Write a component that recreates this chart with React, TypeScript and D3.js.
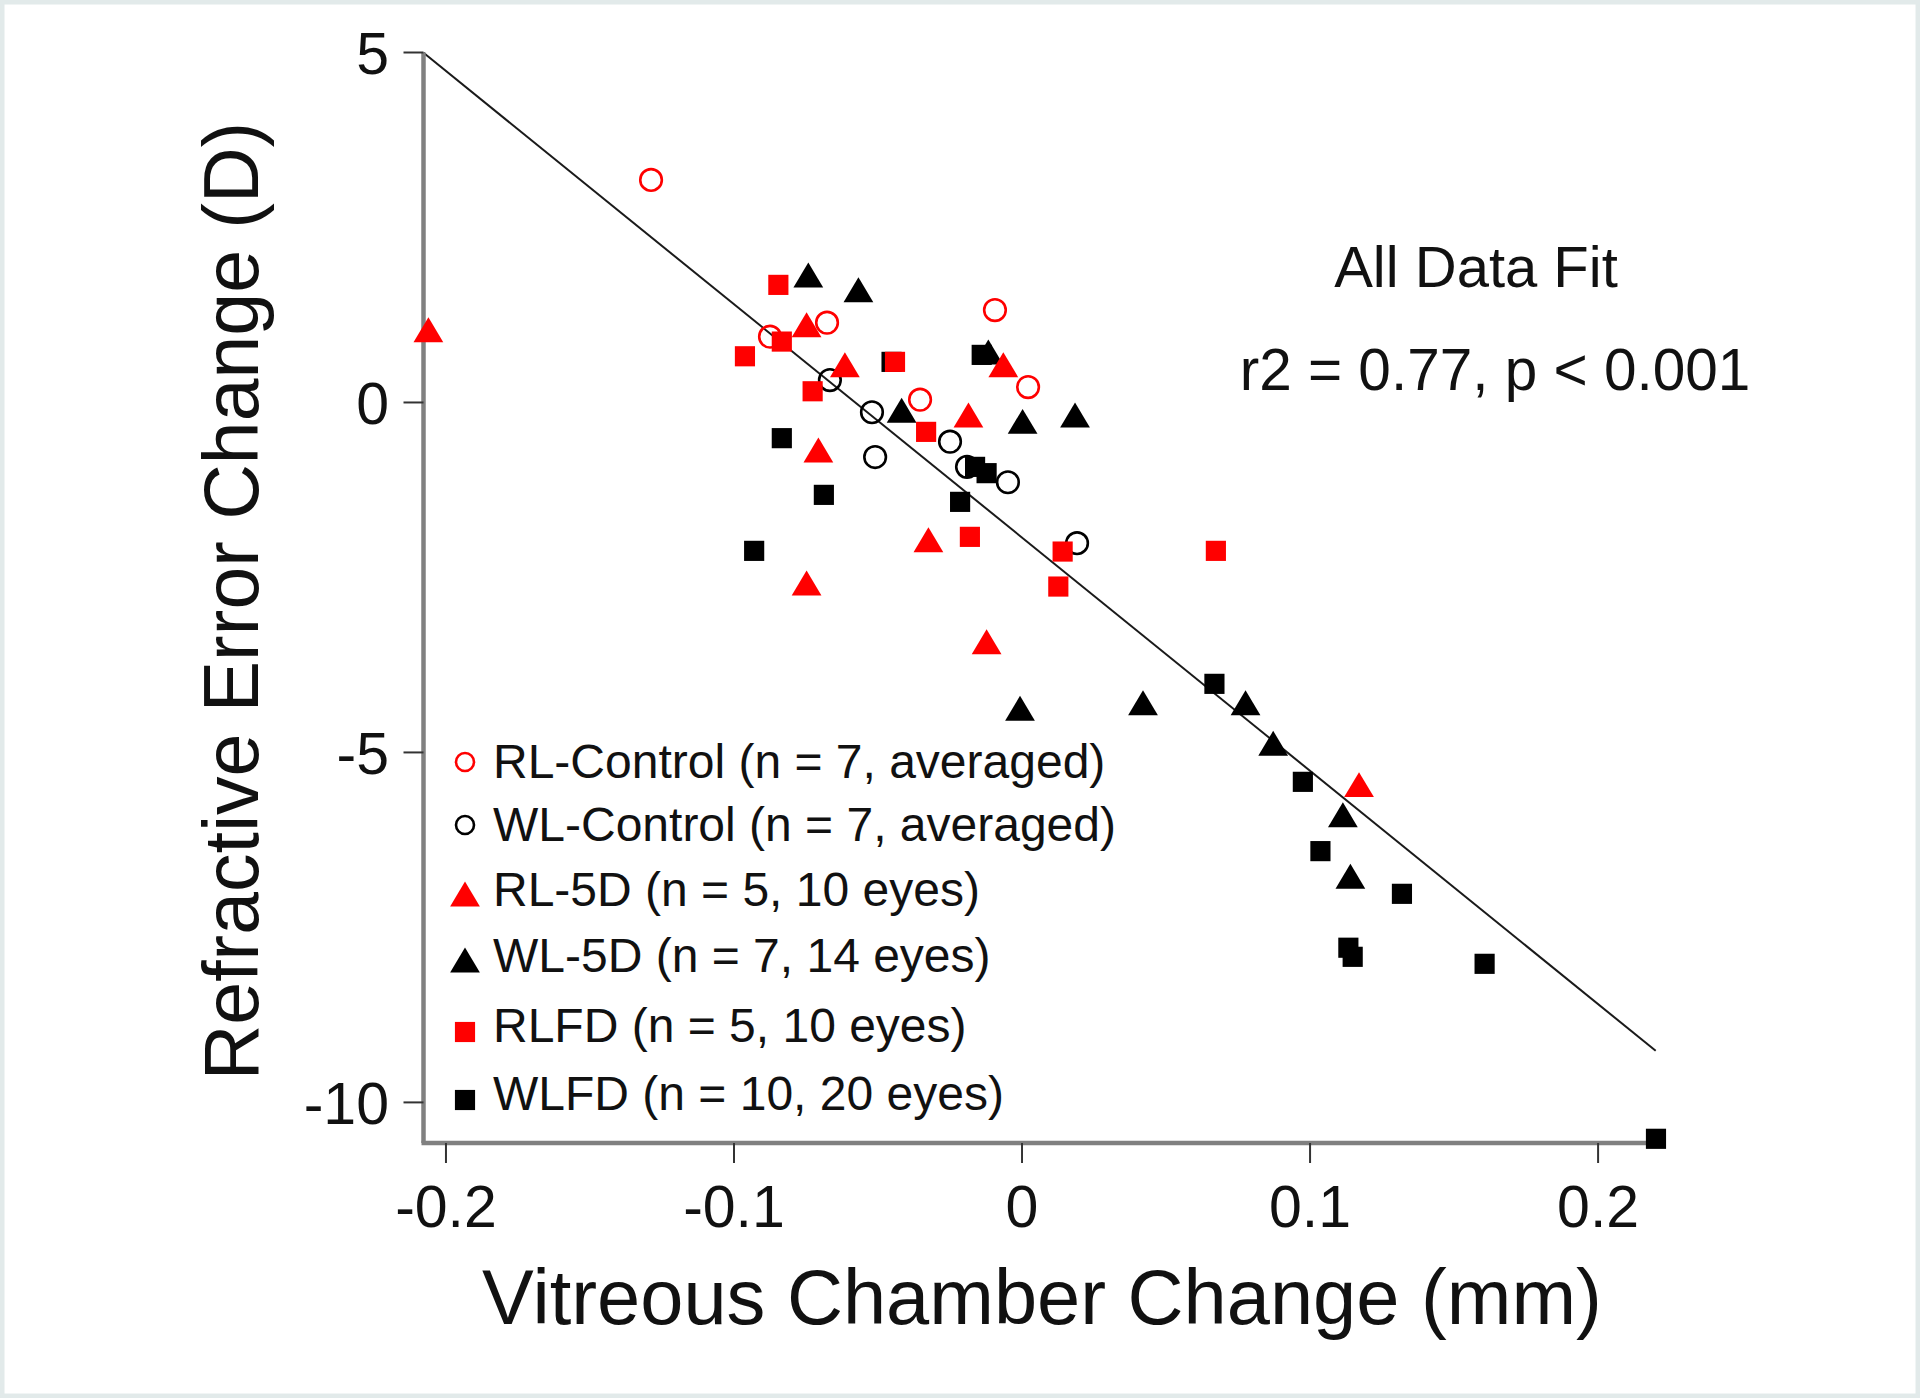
import React from "react";
import * as d3 from "d3";

// ---- data ----
const rlControlX = [-0.1288, -0.0875, -0.0677, -0.0094, 0.0021, -0.0354];
const rlControlY = [3.18, 0.94, 1.14, 1.32, 0.22, 0.04];

const wlControlX = [-0.0667, -0.0521, -0.051, -0.025, -0.0191, -0.0049, 0.0191];
const wlControlY = [0.32, -0.14, -0.78, -0.56, -0.92, -1.14, -2.01];

const rl5dX = [-0.2061, -0.0748, -0.0615, -0.0707, -0.0186, -0.0065, -0.0325, -0.0748, -0.0123, 0.117];
const rl5dY = [1.04, 1.11, 0.54, -0.68, -0.18, 0.54, -1.96, -2.58, -3.42, -5.46];

const wl5dX = [-0.0742, -0.0568, -0.0418, -0.0117, 0.0002, 0.0184, -0.0007, 0.042, 0.0776, 0.0872, 0.1114, 0.114];
const wl5dY = [1.82, 1.61, -0.11, 0.72, -0.27, -0.18, -4.37, -4.29, -4.29, -4.87, -5.89, -6.77];

const rlfdX = [-0.0846, -0.0962, -0.0834, -0.0727, -0.0441, -0.0333, -0.0181, 0.0141, 0.0126, 0.0673];
const rlfdY = [1.68, 0.66, 0.87, 0.16, 0.58, -0.42, -1.92, -2.13, -2.63, -2.12];

const wlfdX = [-0.0834, -0.0688, -0.093, -0.0453, -0.014, -0.0163, -0.0123, -0.0215, 0.0668, 0.0975, 0.1036, 0.1319, 0.1133, 0.1148, 0.1606, 0.2201];
const wlfdY = [-0.51, -1.32, -2.12, 0.58, 0.68, -0.92, -1.01, -1.42, -4.02, -5.42, -6.41, -7.02, -7.79, -7.92, -8.02, -10.52];

const xTicks = [-0.2, -0.1, 0, 0.1, 0.2];
const xTickLabels = ["-0.2", "-0.1", "0", "0.1", "0.2"];
const yTicks = [5, 0, -5, -10];
const yTickLabels = ["5", "0", "-5", "-10"];

const fitSlope = -33.33;
const fitIntercept = -1.93;
const fitXRange = [-0.2078, 0.22];

const legendLabels = [
  "RL-Control (n = 7, averaged)",
  "WL-Control (n = 7, averaged)",
  "RL-5D (n = 5, 10 eyes)",
  "WL-5D (n = 7, 14 eyes)",
  "RLFD (n = 5, 10 eyes)",
  "WLFD (n = 10, 20 eyes)",
];

const xTitle = "Vitreous Chamber Change (mm)";
const yTitle = "Refractive Error Change (D)";
const annot1 = "All Data Fit";
const annot2 = "r2 = 0.77, p < 0.001";

type Shape = "circle" | "triangle" | "square";
const series: { xs: number[]; ys: number[]; shape: Shape; color: string }[] = [
  { xs: wlControlX, ys: wlControlY, shape: "circle", color: "#000" },
  { xs: wlfdX, ys: wlfdY, shape: "square", color: "#000" },
  { xs: wl5dX, ys: wl5dY, shape: "triangle", color: "#000" },
  { xs: rlControlX, ys: rlControlY, shape: "circle", color: "#ff0000" },
  { xs: rl5dX, ys: rl5dY, shape: "triangle", color: "#ff0000" },
  { xs: rlfdX, ys: rlfdY, shape: "square", color: "#ff0000" },
];
const legendShapes: Shape[] = ["circle", "circle", "triangle", "triangle", "square", "square"];
const legendColors = ["#ff0000", "#000", "#ff0000", "#000", "#ff0000", "#000"];

const W = 1920;
const H = 1398;
const FONT = "'Liberation Sans', Arial, Helvetica, sans-serif";
// legend row baselines (layout)
const legendBaselines = [778, 841, 906, 972, 1042, 1110];

function Marker({ shape, color, cx, cy, s }: { shape: Shape; color: string; cx: number; cy: number; s: number }) {
  if (shape === "circle") {
    return <circle cx={cx} cy={cy} r={s * 0.45} fill="none" stroke={color} strokeWidth={2.6} />;
  }
  if (shape === "square") {
    const h = s * 0.42;
    return <rect x={cx - h} y={cy - h} width={2 * h} height={2 * h} fill={color} />;
  }
  const hw = s * 0.62;
  const hh = s * 0.52;
  return <path d={`M${cx},${cy - hh}L${cx + hw},${cy + hh}L${cx - hw},${cy + hh}Z`} fill={color} />;
}

export default function App() {
  const x = d3.scaleLinear().domain([-0.2078, 0.2208]).range([423.5, 1658]);
  const y = d3.scaleLinear().domain([5, -10.58]).range([52.5, 1143]);

  const [x0, x1] = x.range();
  const yTop = y(5);
  const yBot = y.range()[1];

  const fitLine = d3.line<number>()
    .x((v) => x(v))
    .y((v) => y(fitIntercept + fitSlope * v));

  const legendX = 465;
  const legendTextX = 493;

  return (
    <svg
      width={W}
      height={H}
      viewBox={`0 0 ${W} ${H}`}
      style={{ position: "absolute", left: 0, top: 0, display: "block" }}
      fontFamily={FONT}
    >
      <rect x={0} y={0} width={W} height={H} fill="#ffffff" />
      <rect x={2} y={2} width={W - 4} height={H - 4} fill="none" stroke="#e2eaea" strokeWidth={5} />

      {/* fit line */}
      <path d={fitLine(fitXRange) || ""} fill="none" stroke="#1a1a1a" strokeWidth={2} />

      {/* axes */}
      <line x1={x0} y1={yTop} x2={x0} y2={yBot} stroke="#808080" strokeWidth={4.5} />
      <line x1={x0 - 2} y1={yBot} x2={x1} y2={yBot} stroke="#808080" strokeWidth={4.5} />

      {yTicks.map((t, i) => (
        <g key={"yt" + i}>
          <line x1={x0 - 20} x2={x0} y1={y(t)} y2={y(t)} stroke="#333" strokeWidth={2} />
          <text x={389} y={y(t)} dy="0.36em" textAnchor="end" fontSize={59} fill="#111">
            {yTickLabels[i]}
          </text>
        </g>
      ))}
      {xTicks.map((t, i) => (
        <g key={"xt" + i}>
          <line x1={x(t)} x2={x(t)} y1={yBot} y2={yBot + 20} stroke="#333" strokeWidth={2} />
          <text x={x(t)} y={1227} textAnchor="middle" fontSize={59} fill="#111">
            {xTickLabels[i]}
          </text>
        </g>
      ))}

      {/* titles */}
      <text x={1042} y={1324} textAnchor="middle" fontSize={77.6} fill="#111">
        {xTitle}
      </text>
      <text transform={`translate(258,601) rotate(-90)`} textAnchor="middle" fontSize={77} fill="#111">
        {yTitle}
      </text>

      {/* annotation */}
      <text x={1476} y={287} textAnchor="middle" fontSize={58} fill="#111">
        {annot1}
      </text>
      <text x={1495} y={390} textAnchor="middle" fontSize={58.5} fill="#111">
        {annot2}
      </text>

      {/* data */}
      {series.map((s, si) => (
        <g key={"s" + si}>
          {s.xs.map((vx, i) => (
            <Marker key={i} shape={s.shape} color={s.color} cx={x(vx)} cy={y(s.ys[i])} s={24} />
          ))}
        </g>
      ))}

      {/* legend */}
      {legendLabels.map((lab, i) => {
        const base = legendBaselines[i];
        const shape = legendShapes[i];
        const cy = shape === "circle" ? base - 16 : shape === "triangle" ? base - 12 : base - 10;
        return (
          <g key={"lg" + i}>
            <Marker shape={shape} color={legendColors[i]} cx={legendX} cy={cy} s={shape === "circle" ? 20 : 24} />
            <text x={legendTextX} y={base} fontSize={48} fill="#111">
              {lab}
            </text>
          </g>
        );
      })}
    </svg>
  );
}
